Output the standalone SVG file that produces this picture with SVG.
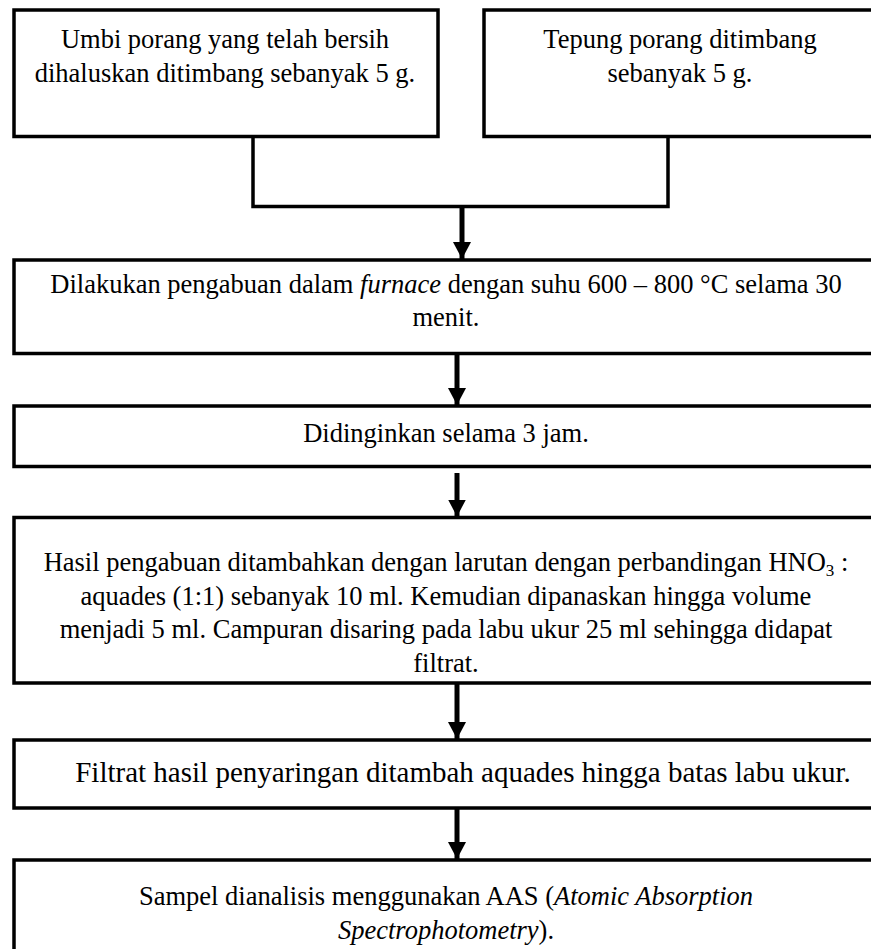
<svg xmlns="http://www.w3.org/2000/svg" width="871" height="949" viewBox="0 0 871 949">
  <style>
    .box { fill: #ffffff; stroke: #000000; stroke-width: 3.5; }
    .link { fill: none; stroke: #000000; stroke-width: 3.5; }
    .shaft { stroke: #000000; stroke-width: 5; }
    .label { font-family: 'Liberation Serif', 'DejaVu Serif', serif; font-size: 26.5px; fill: #000000; text-anchor: middle; }
    .big { font-size: 29px; }
    .it { font-style: italic; }
  </style>
  <defs>
    <marker id="head" markerUnits="userSpaceOnUse" markerWidth="18" markerHeight="18" refX="17" refY="9" orient="auto">
      <path d="M0,0 L17,9 L0,18 Z" fill="#000000"/>
    </marker>
  </defs>
  <rect width="871" height="949" fill="#ffffff"/>

  <g font-family="Liberation Serif, serif">
  <!-- starting materials -->
  <g id="umbi">
    <rect class="box" x="14" y="10" width="424" height="126.5"/>
    <text class="label" x="225" y="48">Umbi porang yang telah bersih</text>
    <text class="label" x="225" y="82">dihaluskan ditimbang sebanyak 5 g.</text>
  </g>
  <g id="tepung">
    <rect class="box" x="484" y="10" width="396" height="126.5"/>
    <text class="label" x="680" y="48">Tepung porang ditimbang</text>
    <text class="label" x="680" y="82">sebanyak 5 g.</text>
  </g>

  <!-- process steps -->
  <g id="pengabuan">
    <rect class="box" x="14" y="260" width="900" height="93.5"/>
    <text class="label" x="446" y="293">Dilakukan pengabuan dalam <tspan class="it">furnace</tspan> dengan suhu 600 – 800 °C selama 30</text>
    <text class="label" x="446" y="326">menit.</text>
  </g>
  <g id="pendinginan">
    <rect class="box" x="14" y="406" width="900" height="60.5"/>
    <text class="label" x="446" y="442">Didinginkan selama 3 jam.</text>
  </g>
  <g id="pelarutan">
    <rect class="box" x="14" y="517.5" width="900" height="165.5"/>
    <text class="label" x="446" y="571">Hasil pengabuan ditambahkan dengan larutan dengan perbandingan HNO<tspan font-size="17" dy="5">3</tspan><tspan dy="-5"> :</tspan></text>
    <text class="label" x="446" y="605">aquades (1:1) sebanyak 10 ml. Kemudian dipanaskan hingga volume</text>
    <text class="label" x="446" y="638">menjadi 5 ml. Campuran disaring pada labu ukur 25 ml sehingga didapat</text>
    <text class="label" x="446" y="672">filtrat.</text>
  </g>
  <g id="pengenceran">
    <rect class="box" x="14" y="740" width="900" height="68"/>
    <text class="label big" x="463" y="782">Filtrat hasil penyaringan ditambah aquades hingga batas labu ukur.</text>
  </g>
  <g id="analisis">
    <rect class="box" x="14" y="860" width="900" height="120"/>
    <text class="label" x="446" y="905">Sampel dianalisis menggunakan AAS (<tspan class="it">Atomic Absorption</tspan></text>
    <text class="label" x="446" y="939"><tspan class="it">Spectrophotometry</tspan>).</text>
  </g>
  </g>

  <!-- connectors -->
  <g id="connectors">
    <path class="link" d="M253,136.5 V206.5 H668 V136.5"/>
    <line class="shaft" x1="462" y1="206.5" x2="462" y2="259" marker-end="url(#head)"/>
    <line class="shaft" x1="457" y1="353.5" x2="457" y2="405" marker-end="url(#head)"/>
    <line class="shaft" x1="457" y1="473" x2="457" y2="516.5" marker-end="url(#head)"/>
    <line class="shaft" x1="457" y1="683" x2="457" y2="739" marker-end="url(#head)"/>
    <line class="shaft" x1="457" y1="808" x2="457" y2="859" marker-end="url(#head)"/>
  </g>
</svg>
